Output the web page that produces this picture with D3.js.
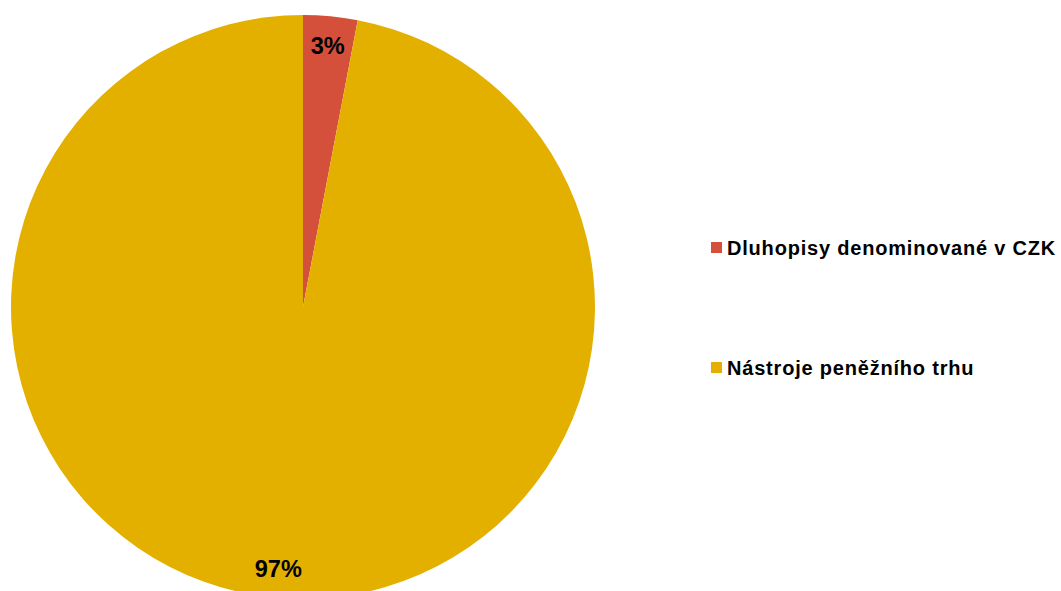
<!DOCTYPE html>
<html lang="cs">
<head>
    <meta charset="UTF-8">
    <title>Pie</title>
    <script src="https://cdn.jsdelivr.net/npm/d3@7"></script>
    <style>
        body { margin: 0; background: #ffffff; }
        text { font-family: "Liberation Sans", Arial, sans-serif; font-weight: bold; }
    </style>
</head>
<body>
<script>
    // data
    var categories = ["Dluhopisy denominované v CZK", "Nástroje peněžního trhu"];
    var values = [3, 97];
    var colors = ["#D4503A", "#E4B000"];

    var width = 1061, height = 591;
    var cx = 303, cy = 307, radius = 292;

    var svg = d3.select("body").append("svg")
        .attr("width", width)
        .attr("height", height);

    var data = categories.map(function (c, i) {
        return {name: c, value: values[i], color: colors[i]};
    });

    var pie = d3.pie().sort(null).value(function (d) { return d.value; });
    var arc = d3.arc().innerRadius(0).outerRadius(radius);
    var labelArc = d3.arc().innerRadius(radius * 0.9).outerRadius(radius * 0.9);

    var g = svg.append("g").attr("transform", "translate(" + cx + "," + cy + ")");

    var total = d3.sum(values);

    g.selectAll("path")
        .data(pie(data))
        .enter()
        .append("path")
        .attr("d", arc)
        .attr("fill", function (d) { return d.data.color; });

    // procenta
    g.selectAll(".lbl")
        .data(pie(data))
        .enter()
        .append("text")
        .attr("class", "lbl")
        .attr("transform", function (d) { return "translate(" + labelArc.centroid(d) + ")"; })
        .attr("text-anchor", "middle")
        .attr("dy", "0.35em")
        .attr("font-size", "23.5px")
        .attr("fill", "#000")
        .text(function (d) { return Math.round(d.data.value / total * 100) + "%"; });

    // legenda
    var legendY = d3.scalePoint().domain(categories).range([248, 368]);

    var legend = svg.selectAll(".leg")
        .data(data)
        .enter()
        .append("g")
        .attr("class", "leg")
        .attr("transform", function (d) { return "translate(711," + legendY(d.name) + ")"; });

    legend.append("rect")
        .attr("x", 0)
        .attr("y", -6)
        .attr("width", 11)
        .attr("height", 11)
        .attr("fill", function (d) { return d.color; });

    legend.append("text")
        .attr("x", 16)
        .attr("y", 7)
        .attr("font-size", "20px")
        .attr("letter-spacing", "0.8px")
        .attr("fill", "#000")
        .text(function (d) { return d.name; });
</script>
</body>
</html>
